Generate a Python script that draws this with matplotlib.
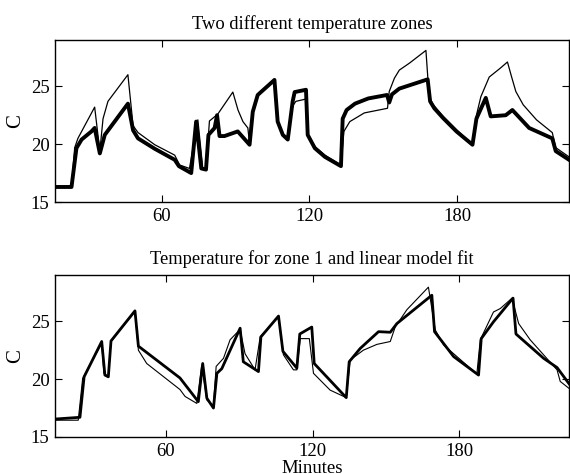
import matplotlib
matplotlib.use("Agg")
import matplotlib.pyplot as plt

# --- top panel: raw sensor data, two zones (minutes, deg C)
zone1_t = [16.7, 23.4, 24.7, 26.0, 32.8, 34.9, 36.2, 38.2, 46.3, 48.4, 50.4, 57.2,
           65.3, 67.3, 71.3, 74.7, 76.7, 78.0, 79.4, 82.8, 88.9, 91.0, 93.0, 95.0,
           95.7, 97.0, 99.0, 105.8, 107.1, 109.2, 111.2, 113.2, 114.5, 118.6, 119.3,
           122.2, 126.3, 132.8, 134.0, 136.4, 142.3, 151.7, 152.4, 154.5, 156.5,
           160.6, 167.3, 168.6, 170.3, 174.3, 179.7, 186.2, 187.8, 189.6, 193.0,
           197.4, 200.4, 202.1, 203.8, 206.8, 212.2, 218.6, 220.0, 225.4]
zone1_c = [16.3, 16.3, 19.7, 20.5, 23.2, 19.4, 22.2, 23.7, 26.0, 21.6, 21.0, 19.95,
           19.05, 18.2, 17.9, 22.1, 17.9, 17.8, 22.0, 22.6, 24.5, 22.95, 21.95, 21.4,
           20.0, 22.8, 24.3, 25.6, 22.0, 20.8, 20.4, 23.3, 23.7, 23.9, 20.9,
           19.8, 19.05, 18.2, 21.1, 21.95, 22.7, 23.1, 24.55, 25.7, 26.4,
           27.0, 28.1, 24.1, 23.4, 22.4, 21.25, 19.95, 22.5, 24.1, 25.8,
           26.55, 27.1, 25.8, 24.55, 23.4, 22.1, 21.0, 19.7, 18.9]

zone2_t = [16.7, 23.4, 25.4, 27.5, 31.5, 32.8, 34.9, 36.9, 46.3, 48.4, 50.4, 57.2,
           65.3, 67.0, 72.0, 74.0, 76.1, 78.0, 79.0, 81.5, 82.5, 83.5, 85.5, 90.9,
           95.7, 97.0, 99.0, 105.8, 107.1, 109.2, 111.2, 113.2, 114.0, 118.6, 119.3,
           122.2, 126.3, 132.8, 133.5, 135.1, 138.5, 143.9, 151.5, 152.4, 153.5,
           156.5, 168.0, 169.0, 170.7, 174.3, 179.7, 186.2, 187.8, 191.6, 193.6,
           199.7, 202.4, 209.2, 218.6, 220.0, 225.4]
zone2_c = [16.3, 16.3, 19.65, 20.4, 21.1, 21.4, 19.2, 20.8, 23.5, 21.2, 20.5, 19.6,
           18.65, 18.1, 17.5, 21.95, 17.9, 17.8, 20.8, 21.4, 22.5, 20.7, 20.7, 21.1,
           19.95, 22.8, 24.25, 25.55, 21.95, 20.8, 20.4, 23.7, 24.5, 24.7, 20.8,
           19.65, 18.9, 18.1, 22.2, 22.95, 23.5, 23.95, 24.25, 23.6, 24.3,
           24.8, 25.6, 23.7, 23.1, 22.25, 21.1, 19.95, 22.2, 24.0, 22.4,
           22.5, 22.95, 21.4, 20.5, 19.4, 18.65]

# --- bottom panel: zone 1 (resampled) and linear model output
meas_t = [14.7, 24.9, 26.6, 33.8, 35.1, 36.5, 37.6, 47.4, 48.8, 65.8, 73.3, 75.1,
          76.8, 79.5, 80.9, 82.9, 90.4, 91.7, 97.9, 98.9, 106.1, 107.9, 113.6,
          114.8, 119.7, 120.7, 133.8, 135.0, 139.5, 147.0, 151.8, 154.5, 168.8,
          169.9, 177.7, 187.9, 189.0, 194.0, 202.0, 203.2, 214.5, 220.0, 224.9]
meas_c = [16.55, 16.7, 20.2, 23.25, 20.35, 20.2, 23.3, 25.9, 22.85, 20.1, 18.05, 21.35,
          18.35, 17.5, 20.5, 20.9, 24.4, 21.5, 20.65, 23.65, 25.45, 22.4, 20.95,
          23.9, 24.5, 21.35, 18.4, 21.5, 22.65, 24.1, 24.05, 24.8, 27.25,
          24.1, 21.95, 20.35, 23.5, 24.95, 27.0, 23.9, 21.8, 21.0, 19.6]

fit_t = [14.7, 24.2, 26.0, 33.8, 34.7, 36.5, 37.6, 47.4, 48.8, 52.2, 65.8, 67.9,
         72.7, 74.7, 76.8, 79.5, 80.6, 83.6, 86.3, 90.4, 92.4, 96.5, 98.6, 106.1,
         108.1, 112.2, 113.6, 115.0, 118.7, 120.4, 127.2, 133.8, 135.4, 140.8,
         146.3, 151.8, 153.8, 158.6, 167.4, 170.2, 173.6, 187.2, 188.6, 194.0,
         196.8, 201.6, 204.3, 209.0, 220.0, 221.3, 224.9]
fit_c = [16.45, 16.45, 20.05, 23.1, 20.5, 20.2, 23.25, 25.85, 22.5, 21.35, 19.1, 18.5,
         17.9, 21.2, 18.2, 17.7, 21.1, 21.8, 23.4, 24.3, 22.2, 20.8, 23.65, 25.4,
         22.1, 20.8, 20.8, 23.5, 23.5, 20.5, 19.05, 18.4, 21.65, 22.5,
         23.0, 23.25, 24.5, 26.0, 27.95, 24.25, 22.95, 20.45, 23.4, 25.8,
         26.1, 27.0, 24.8, 23.4, 20.8, 19.8, 19.2]

x_ticks = [60, 120, 180]
y_ticks = [15, 20, 25]

plt.rcParams["font.family"] = ["Liberation Serif", "DejaVu Serif"]

fig = plt.figure(figsize=(5.7, 4.74), dpi=100)
ax1 = fig.add_axes([0.0965, 0.5738, 0.9018, 0.3418])
ax2 = fig.add_axes([0.0965, 0.0781, 0.9018, 0.3418])

ax1.plot(zone2_t, zone2_c, color="black", lw=2.8, solid_joinstyle="round")
ax1.plot(zone1_t, zone1_c, color="black", lw=0.9)
ax1.set_xlim(16.7, 225.4)
ax1.set_title("Two different temperature zones", fontsize=13.3, pad=8)

ax2.plot(meas_t, meas_c, color="black", lw=2.0)
ax2.plot(fit_t, fit_c, color="black", lw=0.8)
ax2.set_xlim(14.7, 224.9)
ax2.set_title("Temperature for zone 1 and linear model fit", fontsize=13.3, pad=8)
ax2.set_xlabel("Minutes", fontsize=13.5, labelpad=0)

for ax in (ax1, ax2):
    ax.set_ylim(15, 29)
    ax.set_xticks(x_ticks)
    ax.set_yticks(y_ticks)
    ax.set_ylabel("C", fontsize=15, labelpad=4)
    ax.tick_params(direction="in", length=5, width=0.8, top=True, right=True,
                   labelsize=13.5, pad=4)
    for s in ax.spines.values():
        s.set_linewidth(1.0)

fig.savefig("out.png", dpi=100)
